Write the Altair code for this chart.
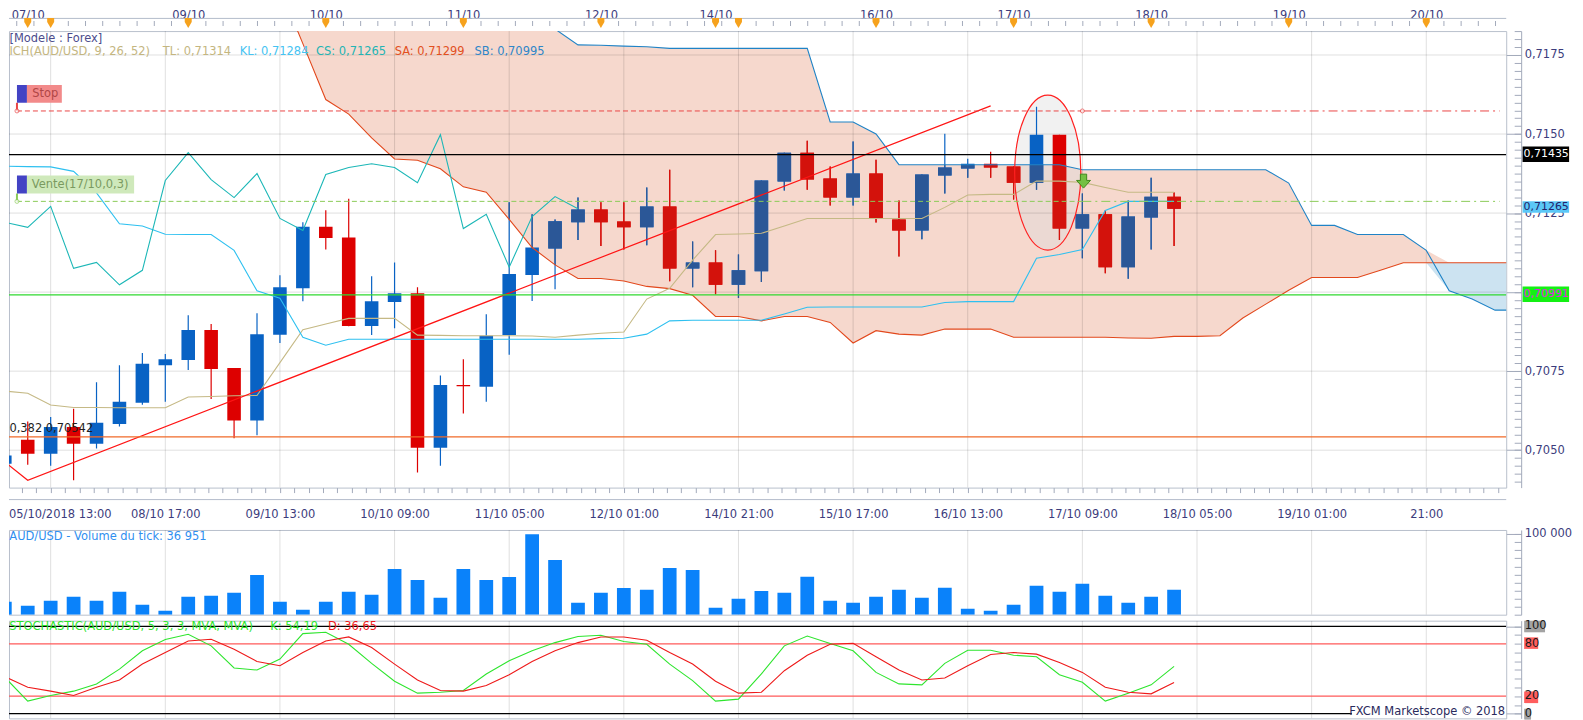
import altair as alt
import numpy as np
import pandas as pd

FONT = "DejaVu Sans"
FS = 11.5

# ---------------- data ----------------
candle_index = list(range(52))
opens = [0.70457, 0.70533, 0.70489, 0.70573, 0.70520, 0.70583, 0.70650, 0.70769, 0.70785, 0.70880,
         0.70760, 0.70594, 0.70865, 0.71012, 0.71207, 0.71173, 0.70893, 0.70969, 0.70996, 0.70508,
         0.70706, 0.70701, 0.70864, 0.71054, 0.71138, 0.71221, 0.71261, 0.71223, 0.71205, 0.71271,
         0.71075, 0.71094, 0.71023, 0.71066, 0.71350, 0.71441, 0.71359, 0.71299, 0.71375, 0.71230,
         0.71195, 0.71369, 0.71391, 0.71406, 0.71397, 0.71346, 0.71498, 0.71201, 0.71246, 0.71079,
         0.71236, 0.71302]
closes = [0.70483, 0.70489, 0.70573, 0.70520, 0.70587, 0.70653, 0.70773, 0.70788, 0.70880, 0.70757,
          0.70594, 0.70867, 0.71015, 0.71207, 0.71171, 0.70893, 0.70971, 0.70996, 0.70508, 0.70706,
          0.70702, 0.70862, 0.71057, 0.71141, 0.71224, 0.71261, 0.71221, 0.71205, 0.71271, 0.71075,
          0.71094, 0.71023, 0.71069, 0.71353, 0.71441, 0.71356, 0.71299, 0.71375, 0.71233, 0.71195,
          0.71372, 0.71394, 0.71406, 0.71394, 0.71346, 0.71498, 0.71201, 0.71246, 0.71079, 0.71239,
          0.71302, 0.71264]
highs = [0.70547, 0.70591, 0.70605, 0.70631, 0.70715, 0.70769, 0.70807, 0.70804, 0.70927, 0.70899,
         0.70760, 0.70933, 0.71053, 0.71221, 0.71259, 0.71295, 0.71050, 0.71094, 0.71015, 0.70736,
         0.70788, 0.70930, 0.71284, 0.71246, 0.71230, 0.71299, 0.71284, 0.71284, 0.71331, 0.71387,
         0.71160, 0.71132, 0.71119, 0.71353, 0.71441, 0.71479, 0.71397, 0.71476, 0.71419, 0.71290,
         0.71372, 0.71501, 0.71422, 0.71444, 0.71397, 0.71586, 0.71498, 0.71312, 0.71258, 0.71290,
         0.71362, 0.71315]
lows = [0.70423, 0.70454, 0.70451, 0.70405, 0.70505, 0.70575, 0.70644, 0.70653, 0.70754, 0.70662,
        0.70538, 0.70547, 0.70839, 0.70971, 0.71135, 0.70892, 0.70864, 0.70886, 0.70429, 0.70451,
        0.70616, 0.70653, 0.70802, 0.70972, 0.71009, 0.71165, 0.71146, 0.71135, 0.71148, 0.71034,
        0.71015, 0.70993, 0.70981, 0.71032, 0.71321, 0.71324, 0.71274, 0.71274, 0.71220, 0.71113,
        0.71167, 0.71312, 0.71362, 0.71362, 0.71293, 0.71324, 0.71165, 0.71107, 0.71060, 0.71042,
        0.71135, 0.71146]

tenkan = [0.70687, 0.70680, 0.70643, 0.70635, 0.70635, 0.70634, 0.70634, 0.70634, 0.70668, 0.70670,
          0.70672, 0.70673, 0.70777, 0.70881, 0.70899, 0.70917, 0.70917, 0.70917, 0.70864, 0.70863,
          0.70862, 0.70862, 0.70862, 0.70861, 0.70857, 0.70864, 0.70870, 0.70874, 0.70978, 0.71012,
          0.71101, 0.71182, 0.71184, 0.71186, 0.71209, 0.71233, 0.71233, 0.71233, 0.71233, 0.71233,
          0.71233, 0.71268, 0.71307, 0.71309, 0.71309, 0.71351, 0.71351, 0.71347, 0.71331, 0.71316,
          0.71316, 0.71316]
kijun = [0.71398, 0.71397, 0.71396, 0.71382, 0.71314, 0.71216, 0.71209, 0.71183, 0.71182, 0.71182,
         0.71132, 0.71004, 0.70981, 0.70857, 0.70832, 0.70851, 0.70851, 0.70851, 0.70851, 0.70851,
         0.70851, 0.70851, 0.70851, 0.70851, 0.70851, 0.70851, 0.70853, 0.70854, 0.70867, 0.70909,
         0.70911, 0.70911, 0.70911, 0.70911, 0.70931, 0.70952, 0.70953, 0.70953, 0.70953, 0.70953,
         0.70953, 0.70967, 0.70970, 0.70970, 0.70970, 0.71107, 0.71119, 0.71135, 0.71258, 0.71287,
         0.71287, 0.71287]

span_index = list(range(12, 67))
span_a = [0.71961, 0.71786, 0.71609, 0.71563, 0.71488, 0.71421, 0.71417, 0.71390, 0.71333, 0.71316,
          0.71230, 0.71141, 0.71086, 0.71043, 0.71043, 0.71035, 0.71018, 0.71011, 0.70990, 0.70923,
          0.70923, 0.70909, 0.70923, 0.70923, 0.70904, 0.70839, 0.70878, 0.70867, 0.70864, 0.70883,
          0.70883, 0.70883, 0.70857, 0.70857, 0.70857, 0.70857, 0.70857, 0.70855, 0.70854, 0.70860,
          0.70860, 0.70862, 0.70918, 0.70962, 0.71006, 0.71046, 0.71046, 0.71046, 0.71069, 0.71093,
          0.71093, 0.71093, 0.71093, 0.71093, 0.71093]
span_b = [0.72018, 0.72018, 0.72018, 0.72018, 0.72018, 0.72018, 0.72018, 0.72018, 0.72018, 0.72018,
          0.72018, 0.71882, 0.71832, 0.71782, 0.71781, 0.71778, 0.71776, 0.71771, 0.71771, 0.71771,
          0.71771, 0.71771, 0.71771, 0.71771, 0.71538, 0.71538, 0.71500, 0.71403, 0.71403, 0.71403,
          0.71403, 0.71403, 0.71403, 0.71403, 0.71403, 0.71387, 0.71387, 0.71387, 0.71387, 0.71387,
          0.71387, 0.71387, 0.71387, 0.71387, 0.71345, 0.71211, 0.71211, 0.71182, 0.71182, 0.71182,
          0.71132, 0.71004, 0.70978, 0.70943, 0.70943]

volume = [16000, 11100, 17300, 22200, 17300, 28400, 12300, 4900, 22200, 23500,
          27200, 49400, 16000, 6200, 16000, 28400, 24700, 56800, 43200, 21000,
          56800, 43200, 46900, 100000, 67900, 14800, 27200, 33300, 30900, 58000,
          55600, 8600, 19800, 29600, 27200, 47100, 17400, 14900, 22300, 31000,
          21100, 33500, 7400, 5000, 12400, 36000, 28500, 38400, 23600, 14900,
          22300, 31000]
stoch_k = [41.7, 14.4, 20.8, 25.8, 34.0, 51.0, 72.0, 85.0, 91.0, 77.7,
           52.3, 50.0, 62.5, 91.7, 93.2, 79.5, 57.6, 37.1, 23.5, 24.6,
           26.5, 45.5, 60.6, 72.0, 81.4, 88.3, 89.8, 82.6, 79.5, 56.8,
           37.9, 14.4, 16.7, 45.5, 77.7, 89.0, 80.3, 72.0, 47.3, 34.1,
           33.0, 57.6, 72.7, 72.7, 67.0, 65.2, 44.7, 36.0, 14.4, 23.5,
           33.0, 54.2]
stoch_d = [42.4, 30.3, 25.8, 20.8, 30.3, 38.6, 56.8, 70.0, 83.3, 85.2,
           73.9, 59.8, 54.9, 70.0, 83.3, 87.9, 75.8, 56.8, 38.6, 26.5,
           25.8, 32.2, 44.7, 59.8, 72.0, 81.4, 87.9, 87.9, 84.1, 70.0,
           56.8, 37.1, 23.5, 24.6, 49.2, 67.0, 79.5, 80.7, 65.2, 50.0,
           38.6, 40.9, 54.9, 67.8, 70.0, 68.2, 58.7, 47.3, 30.3, 24.6,
           22.7, 35.6]

trend_index = [-0.17, 1, 43]
trend_price = [0.70473, 0.70405, 0.71589]

RESIST = 0.71435
SUPPORT = 0.70991
FIB = 0.70542
STOP = 0.71573
VENTE = 0.71287

grid_index = [2, 7, 12, 17, 22, 27, 32, 37, 42, 47, 52, 57, 62]
grid_prices = [0.7050, 0.7075, 0.7100, 0.7125, 0.7150, 0.7175]
bottom_labels = ["05/10/2018 13:00", "08/10 17:00", "09/10 13:00", "10/10 09:00", "11/10 05:00",
                 "12/10 01:00", "14/10 21:00", "15/10 17:00", "16/10 13:00", "17/10 09:00",
                 "18/10 05:00", "19/10 01:00", "21:00"]
top_label_index = [1, 8, 14, 20, 26, 31, 38, 44, 50, 56, 62]
top_labels = ["07/10", "09/10", "10/10", "11/10", "12/10", "14/10", "16/10", "17/10", "18/10", "19/10", "20/10"]
marker_index = [1, 2, 8, 14, 20, 26, 31, 32, 38, 44, 50, 56, 62]

# ---------------- scales ----------------
XMIN, XMAX = 0.1826, 65.487
YMIN, YMAX = 0.703816, 0.718257
xs = alt.Scale(domain=[XMIN, XMAX], nice=False, zero=False, padding=0)
ys = alt.Scale(domain=[YMIN, YMAX], nice=False, zero=False, padding=0)
vs = alt.Scale(domain=[0, 105300], nice=False, zero=False, padding=0)
ss = alt.Scale(domain=[-5.37, 106.5], nice=False, zero=False, padding=0)


def X(f="i", axis=None):
    return alt.X(f"{f}:Q", scale=xs, axis=axis)


def Yq(f, scale, axis=None):
    return alt.Y(f"{f}:Q", scale=scale, axis=axis)


def chain(keys, labels):
    s = "''"
    for k, lab in reversed(list(zip(keys, labels))):
        s = f"datum.value == {k} ? '{lab}' : ({s})"
    return s


def ptext(t, x, y, color, align="left", size=FS):
    return alt.Chart(pd.DataFrame({"t": [t]})).mark_text(
        align=align, baseline="middle", font=FONT, fontSize=size, color=color
    ).encode(text="t:N", x=alt.value(x), y=alt.value(y))


def dtext(t, i, p, color, yscale, align="left", size=FS, baseline="middle"):
    return alt.Chart(pd.DataFrame({"t": [t], "i": [i], "p": [p]})).mark_text(
        align=align, baseline=baseline, font=FONT, fontSize=size, color=color
    ).encode(text="t:N", x=X(), y=Yq("p", yscale))


def box(x0, x1, y0, y1, color, yscale, clip=False):
    df = pd.DataFrame({"x0": [x0], "x1": [x1], "y0": [y0], "y1": [y1]})
    return alt.Chart(df).mark_rect(color=color, clip=clip).encode(
        x=X("x0"), x2="x1:Q", y=Yq("y0", yscale), y2="y1:Q")


def hline(price, color, yscale, width=1.0, dash=None, x0=None, x1=None, clip=True, axis=None):
    d = {"p": [price]}
    enc = {"y": Yq("p", yscale, axis)}
    if x0 is not None:
        d["x0"] = [x0]
        d["x1"] = [x1]
        enc["x"] = X("x0")
        enc["x2"] = "x1:Q"
    m = dict(color=color, strokeWidth=width, clip=clip)
    if dash:
        m["strokeDash"] = dash
    return alt.Chart(pd.DataFrame(d)).mark_rule(**m).encode(**enc)


def axis_holder(value, yscale, axis):
    return alt.Chart(pd.DataFrame({"p": [value]})).mark_rule(opacity=0, clip=True).encode(
        y=Yq("p", yscale, axis))


def vgrid():
    return alt.Chart(pd.DataFrame({"i": grid_index})).mark_rule(
        color="#000000", opacity=0.13, clip=True).encode(x=X())


def major_axis(values):
    return alt.Axis(orient="right", values=values, tickSize=15, labels=False, domain=False,
                    offset=0, grid=False, title=None)


def minor_axis(values, label_expr=None):
    kw = dict(orient="right", values=values, tickSize=7, offset=8, domain=False, grid=False,
              title=None, labelOverlap=False)
    if label_expr:
        kw.update(labelExpr=label_expr, labelPadding=3)
    else:
        kw.update(labels=False)
    return alt.Axis(**kw)


line_axis = alt.Axis(orient="right", ticks=False, labels=False, domain=True, offset=15,
                     grid=False, title=None)

# ---------------- axes ----------------
bottom_ticks = [2 + 0.625 * k for k in range(-2, 103) if XMIN < 2 + 0.625 * k < XMAX]
bottom_axis = alt.Axis(orient="bottom", values=bottom_ticks,
                       labelExpr=chain(grid_index[1:], bottom_labels[1:]),
                       tickSize=5, labelPadding=25, labelBaseline="alphabetic",
                       domain=False, grid=False, labelOverlap=False, title=None)
ruler_ticks = sorted(set([round(0.52 + 0.75 * k, 4) for k in range(0, 87)
                          if 0.52 + 0.75 * k < XMAX] + top_label_index))
top_axis = alt.Axis(orient="top", values=top_label_index, labelExpr=chain(top_label_index, top_labels),
                    ticks=False, labelPadding=12.5, labelBaseline="alphabetic",
                    domain=False, grid=False, labelOverlap=False, title=None)
y_ticks = [round(0.7040 + 0.00025 * k, 5) for k in range(0, 58)]
y_label_expr = ("abs(datum.value * 400 - round(datum.value * 400)) < 0.01 && "
                "abs(datum.value - 0.71) > 0.0001 ? "
                "replace(format(datum.value, '.4f'), '.', ',') : ''")

# ---------------- main panel ----------------
cdf = pd.DataFrame({"i": candle_index, "o": opens, "h": highs, "l": lows, "c": closes})
cdf["up"] = cdf.c >= cdf.o
up = cdf[cdf.up]
down = cdf[~cdf.up]
UP_C, DOWN_C = "#0862c4", "#dd0000"
UP_IN, DOWN_IN = "#2b5797", "#d3120c"

sdf = pd.DataFrame({"i": span_index, "a": span_a, "b": span_b})
sdf["hi"] = np.where(sdf.b > sdf.a, sdf.b, sdf.a)
sdf["lo"] = np.where(sdf.a > sdf.b, sdf.b, sdf.a)

# parts of each candle lying inside the cloud (drawn in the dulled colour)
cl = cdf.merge(sdf[["i", "lo", "hi"]], on="i", how="inner")
cl["b0"] = np.maximum(np.minimum(cl.o, cl.c), cl.lo)
cl["b1"] = np.minimum(np.maximum(cl.o, cl.c), cl.hi)
cl["w0"] = np.maximum(cl.l, cl.lo)
cl["w1"] = np.minimum(cl.h, cl.hi)
in_body = cl[cl.b1 > cl.b0]
in_wick = cl[cl.w1 > cl.w0]

tdf = pd.DataFrame({"i": candle_index, "tl": tenkan, "kl": kijun})
csdf = pd.DataFrame({"i": candle_index[:26], "cs": closes[26:]})
trdf = pd.DataFrame({"i": trend_index, "p": trend_price})

L = []
# cloud
L.append(alt.Chart(sdf).mark_area(color="#f6d8cd", clip=True, orient="vertical")
         .encode(x=X(), y=Yq("a", ys), y2="hi:Q"))
L.append(alt.Chart(sdf).mark_area(color="#cce3f1", clip=True, orient="vertical")
         .encode(x=X(), y=Yq("a", ys), y2="lo:Q"))
# ellipse highlight (fill)
ELLIPSE = "M-0.427,0 A0.427,1 0 1,1 0.427,0 A0.427,1 0 1,1 -0.427,0 Z"
L.append(alt.Chart(pd.DataFrame({"i": [45.49], "p": [0.71378]})).mark_point(
    shape=ELLIPSE, size=24150, filled=True, fill="#dcdcdc", fillOpacity=0.4, strokeOpacity=0,
    clip=True).encode(x=X(), y=Yq("p", ys)))
# grid
L.append(vgrid())
L.append(alt.Chart(pd.DataFrame({"p": grid_prices})).mark_rule(color="#000000", opacity=0.13, clip=True)
         .encode(y=Yq("p", ys, major_axis(grid_prices))))
# candles: wicks, then bodies
for part, col in [(up, UP_C), (down, DOWN_C)]:
    L.append(alt.Chart(part).mark_rule(color=col, strokeWidth=1.2, clip=True)
             .encode(x=X(), y=Yq("l", ys), y2="h:Q"))
for part, col in [(in_wick[in_wick.up], UP_IN), (in_wick[~in_wick.up], DOWN_IN)]:
    L.append(alt.Chart(part).mark_rule(color=col, strokeWidth=1.2, clip=True)
             .encode(x=X(), y=Yq("w0", ys), y2="w1:Q"))
for part, col, ax in [(up, UP_C, bottom_axis), (down, DOWN_C, None)]:
    L.append(alt.Chart(part).mark_bar(color=col, width=13.6, clip=True)
             .encode(x=X(axis=ax), y=Yq("o", ys), y2="c:Q"))
for part, col in [(in_body[in_body.up], UP_IN), (in_body[~in_body.up], DOWN_IN)]:
    L.append(alt.Chart(part).mark_bar(color=col, width=13.6, clip=True)
             .encode(x=X(), y=Yq("b0", ys), y2="b1:Q"))
# ichimoku lines
L.append(alt.Chart(sdf).mark_line(color="#e2481c", strokeWidth=1.1, clip=True).encode(x=X(), y=Yq("a", ys)))
L.append(alt.Chart(sdf).mark_line(color="#1f83c6", strokeWidth=1.1, clip=True).encode(x=X(), y=Yq("b", ys)))
L.append(alt.Chart(tdf).mark_line(color="#c5b985", strokeWidth=1.1, clip=True).encode(x=X(), y=Yq("tl", ys)))
L.append(alt.Chart(tdf).mark_line(color="#2ec0f0", strokeWidth=1.1, clip=True).encode(x=X(), y=Yq("kl", ys)))
L.append(alt.Chart(csdf).mark_line(color="#1cb7b7", strokeWidth=1.1, clip=True).encode(x=X(), y=Yq("cs", ys)))
L.append(alt.Chart(trdf).mark_line(color="#ff1414", strokeWidth=1.2, clip=True).encode(x=X(), y=Yq("p", ys)))
# ellipse outline
L.append(alt.Chart(pd.DataFrame({"i": [45.49], "p": [0.71378]})).mark_point(
    shape=ELLIPSE, size=24150, filled=False, stroke="#ff2020", strokeWidth=1.2, opacity=1,
    clip=True).encode(x=X(), y=Yq("p", ys)))
# horizontal levels (two of them also carry the right-hand axis pieces)
L.append(hline(RESIST, "#000000", ys, 1.3, axis=minor_axis(y_ticks, y_label_expr)))
L.append(hline(SUPPORT, "#2fd82f", ys, 1.3, axis=line_axis))
L.append(hline(FIB, "#f06a28", ys, 1.3))
L.append(hline(STOP, "#ea4646", ys, 1.0, [5, 3], 0.53, 47.0))
L.append(hline(STOP, "#ea4646", ys, 1.0, [9, 4, 2, 4], 47.0, 65.2))
L.append(hline(VENTE, "#8ccb58", ys, 1.0, [5, 3], 0.53, 47.0))
L.append(hline(VENTE, "#8ccb58", ys, 1.0, [9, 4, 2, 4], 47.0, 65.2))
# order labels
L.append(alt.Chart(pd.DataFrame({"i": [0.53, 0.53], "p": [0.71599, STOP]})).mark_line(
    color="#ea4646", clip=True).encode(x=X(), y=Yq("p", ys)))
L.append(alt.Chart(pd.DataFrame({"i": [0.53, 0.53], "p": [0.71312, VENTE]})).mark_line(
    color="#8ccb58", clip=True).encode(x=X(), y=Yq("p", ys)))
L.append(box(0.53, 0.965, 0.71599, 0.71655, "#4343c4", ys, True))
L.append(box(0.965, 2.487, 0.71599, 0.71655, "#f28a8a", ys, True))
L.append(box(0.53, 0.965, 0.71312, 0.71369, "#4343c4", ys, True))
L.append(box(0.965, 5.64, 0.71312, 0.71369, "#cfe9bb", ys, True))
L.append(dtext("Stop", 1.2, 0.71627, "#b04646", ys))
L.append(dtext("Vente(17/10,0,3)", 1.18, 0.71340, "#7a9a60", ys))
L.append(alt.Chart(pd.DataFrame({"i": [0.53, 47.0], "p": [STOP, STOP]})).mark_point(
    shape="circle", size=16, filled=True, fill="white", stroke="#ea4646", strokeWidth=1, clip=True)
         .encode(x=X(), y=Yq("p", ys)))
L.append(alt.Chart(pd.DataFrame({"i": [0.53], "p": [VENTE]})).mark_point(
    shape="circle", size=16, filled=True, fill="white", stroke="#8ccb58", strokeWidth=1, clip=True)
         .encode(x=X(), y=Yq("p", ys)))
ARROW = "M-0.45,-1 L0.45,-1 L0.45,-0.1 L1,-0.1 L0,1 L-1,-0.1 L-0.45,-0.1 Z"
L.append(alt.Chart(pd.DataFrame({"i": [47.05], "p": [0.71351]})).mark_point(
    shape=ARROW, size=196, filled=True, fill="#74c043", stroke="#3f8a1c", strokeWidth=1, opacity=1)
         .encode(x=X(), y=Yq("p", ys)))
L.append(dtext("0,382 0,70542", 0.2, 0.70568, "#1e1e1e", ys))
# rulers + markers outside the plot
L.append(hline(0.718657, "#b4bccb", ys, 1.0, clip=False))
L.append(hline(0.703437, "#b4bccb", ys, 1.0, clip=False))
L.append(alt.Chart(pd.DataFrame({"i": ruler_ticks, "p": [0.718499] * len(ruler_ticks)})).mark_tick(
    orient="vertical", size=5, thickness=1, color="#a3aabb", opacity=1)
         .encode(x=X(), y=Yq("p", ys)))
PIN = "M-0.7,-1 L0.7,-1 L0.7,-0.2 L0,1 L-0.7,-0.2 Z"
L.append(alt.Chart(pd.DataFrame({"i": marker_index, "p": [0.718509] * len(marker_index)})).mark_point(
    shape=PIN, size=100, filled=True, color="#f6a21d", opacity=1, strokeWidth=0)
         .encode(x=X(axis=top_axis), y=Yq("p", ys)))
L.append(dtext(bottom_labels[0], XMIN, 0.70287, "#3c3c7c", ys, baseline="alphabetic"))
# right value tags
L.append(box(66.2, 68.23, 0.714117, 0.714609, "#000000", ys))
L.append(box(66.2, 68.23, 0.712509, 0.712874, "#5bc8f7", ys))
L.append(box(66.2, 68.23, 0.709690, 0.710175, "#14f014", ys))
L.append(dtext("0,71435", 67.23, 0.71436, "#ffffff", ys, align="center", size=11))
L.append(dtext("0,71265", 67.23, 0.712691, "#23236b", ys, align="center", size=11))
L.append(dtext("0,70991", 67.23, 0.709933, "#e81ee8", ys, align="center", size=11))
# legend text
L.append(ptext("[Modele : Forex]", 0.5, 8.3, "#4c4c8c"))
L.append(ptext("ICH(AUD/USD, 9, 26, 52)", 0.5, 21.3, "#c4b67f"))
L.append(ptext("TL: 0,71314", 154.3, 21.3, "#c4b67f"))
L.append(ptext("KL: 0,71284", 231.4, 21.3, "#45c3f2"))
L.append(ptext("CS: 0,71265", 308.0, 21.3, "#22b4b4"))
L.append(ptext("SA: 0,71299", 386.9, 21.3, "#e2501e"))
L.append(ptext("SB: 0,70995", 467.0, 21.3, "#2e86c8"))

main = alt.layer(*L).properties(width=1502, height=458).resolve_axis(x="independent", y="independent")

# ---------------- volume panel ----------------
vdf = pd.DataFrame({"i": candle_index, "v": volume})
vol = alt.layer(
    vgrid(),
    alt.Chart(vdf).mark_bar(color="#0a82fa", width=13.8, clip=True)
    .encode(x=X(), y=Yq("v", vs, minor_axis(list(range(0, 100001, 10000))))),
    axis_holder(50000, vs, line_axis),
    axis_holder(100000, vs, major_axis([100000])),
    ptext("AUD/USD - Volume du tick: 36 951", 0.3, 7.3, "#2f8ff0"),
    dtext("100 000", 66.29, 100000, "#3c3c7c", vs),
).properties(width=1502, height=85).resolve_axis(y="independent")

# ---------------- stochastic panel ----------------
kdf = pd.DataFrame({"i": candle_index, "k": stoch_k, "d": stoch_d})
sto = alt.layer(
    vgrid(),
    hline(100, "#000000", ss, 1.3, axis=minor_axis(list(range(0, 101, 10)))),
    axis_holder(50, ss, line_axis),
    axis_holder(50, ss, major_axis([0, 100])),
    hline(80, "#ff5a5a", ss, 1.2),
    hline(20, "#ff5a5a", ss, 1.2),
    hline(0, "#000000", ss, 1.3, None, XMIN, 58.75),
    alt.Chart(kdf).mark_line(color="#2ee52e", strokeWidth=1.1, clip=True).encode(x=X(), y=Yq("k", ss)),
    alt.Chart(kdf).mark_line(color="#ee1a1a", strokeWidth=1.1, clip=True).encode(x=X(), y=Yq("d", ss)),
    ptext("STOCHASTIC(AUD/USD, 5, 3, 3, MVA, MVA)", 0.3, 6.7, "#2ee52e"),
    ptext("K: 54,19", 262, 6.7, "#2ee52e"),
    ptext("D: 36,65", 320, 6.7, "#ee1a1a"),
    dtext("FXCM Marketscope \u00a9 2018", 65.44, 1.8, "#2a2a5c", ss, align="right"),
    box(66.27, 67.18, 93.2, 106.5, "#a3a3a3", ss),
    box(66.27, 66.88, 74.2, 87.4, "#ff5e5e", ss),
    box(66.27, 66.88, 12.1, 25.5, "#ff5e5e", ss),
    box(66.27, 66.57, -6.8, 5.7, "#a3a3a3", ss),
    dtext("100", 66.29, 100, "#1a1a1a", ss),
    dtext("80", 66.29, 80, "#1a1a1a", ss),
    dtext("20", 66.29, 20, "#1a1a1a", ss),
    dtext("0", 66.29, 0, "#1a1a1a", ss),
).properties(width=1502, height=98).resolve_axis(y="independent")

chart = alt.vconcat(
    main, alt.vconcat(vol, sto, spacing=4), spacing=5.5,
    padding={"left": 0, "top": 0, "right": 2, "bottom": 0},
    background="white",
).configure_view(stroke="#b9c0cc", strokeWidth=1).configure_axis(
    labelFont=FONT, labelFontSize=FS, labelColor="#3c3c7c",
    tickColor="#a3aabb", domainColor="#a3aabb",
)

chart.save("out.html", embed_options={"renderer": "svg", "actions": False})
